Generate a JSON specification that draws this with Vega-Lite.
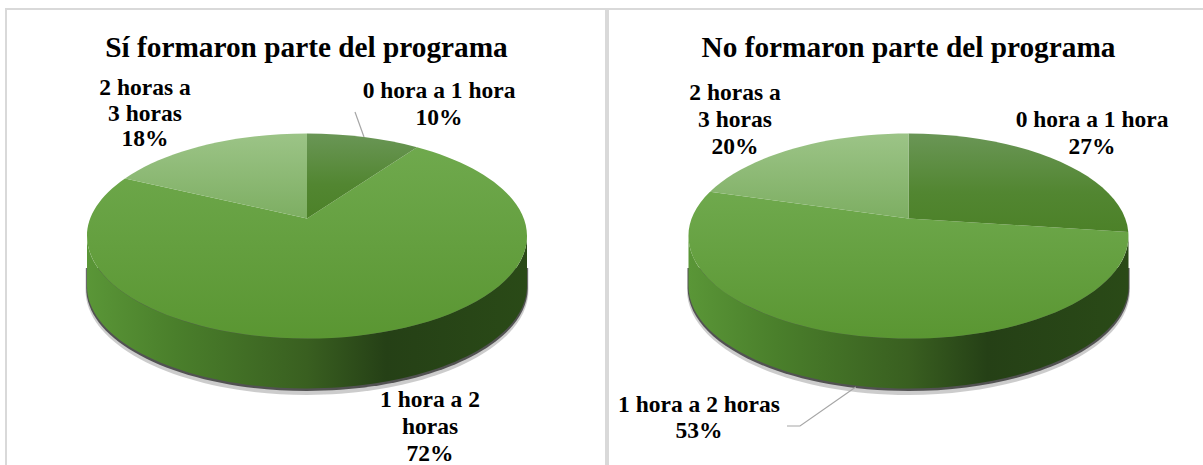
{
"$schema":"https://vega.github.io/schema/vega-lite/v6.json",
"background":"white",
"padding":{"left":5,"top":8,"right":0,"bottom":0},
"spacing":0,
"config":{"text":{"font":"Liberation Serif","fontWeight":"bold","color":"#000000"}},
"data":{"values":[
{"programa":"Sí formaron parte del programa","rango":"0 hora a 1 hora","pct":10,"etiqueta":"0 hora a 1 hora\n10%"},
{"programa":"Sí formaron parte del programa","rango":"1 hora a 2 horas","pct":72,"etiqueta":"1 hora a 2\nhoras\n72%"},
{"programa":"Sí formaron parte del programa","rango":"2 horas a 3 horas","pct":18,"etiqueta":"2 horas a\n3 horas\n18%"},
{"programa":"No formaron parte del programa","rango":"0 hora a 1 hora","pct":27,"etiqueta":"0 hora a 1 hora\n27%"},
{"programa":"No formaron parte del programa","rango":"1 hora a 2 horas","pct":53,"etiqueta":"1 hora a 2 horas\n53%"},
{"programa":"No formaron parte del programa","rango":"2 horas a 3 horas","pct":20,"etiqueta":"2 horas a\n3 horas\n20%"}
]},
"hconcat":[
{"width":600,"height":457,"view":{"stroke":"#d9d9d9","strokeWidth":2},"transform":[{"filter":"datum.pct==10||datum.pct==72||datum.pct==18"}],"layer":[
{"transform":[{"filter":"datum.pct==72"}],"mark":{"type":"point","filled":true,"opacity":0.3,"size":4,"fill":"#555555","xOffset":1,"yOffset":-1.5,"shape":"M-221.5,32 L-221.5,54 A221.5,105 0 0 0 221.5,54 L221.5,32 Z"}},
{"transform":[{"filter":"datum.pct==72"}],"mark":{"type":"point","filled":true,"opacity":0.8,"size":4,"fill":"#333333","xOffset":1,"yOffset":-1.5,"shape":"M-220.8,32 L-220.8,52 A220.8,103 0 0 0 220.8,52 L220.8,32 Z"}},
{"transform":[{"filter":"datum.pct==72"}],"mark":{"type":"point","filled":true,"opacity":1,"size":4,"xOffset":1,"yOffset":-1.5,"shape":"M-220,0 A220,102.5 0 0 0 220,0 L220,50 A220,102.5 0 0 1 -220,50 Z","fill":{"gradient":"linear","x1":0,"y1":0,"x2":1,"y2":0,"stops":[{"offset":0,"color":"#5a9637"},{"offset":0.2,"color":"#4a7f2b"},{"offset":0.5,"color":"#395f20"},{"offset":0.68,"color":"#254016"},{"offset":1,"color":"#2a4a17"}]}}},
{"transform":[{"filter":"datum.pct==72"}],"mark":{"type":"point","filled":true,"opacity":1,"size":4,"xOffset":1,"yOffset":-1.5,"shape":"M0,-17.5 L110,-88.8 A220,102.5 0 1 1 -182,-57.6 Z","fill":{"gradient":"linear","x1":0,"y1":0,"x2":0,"y2":1,"stops":[{"offset":0,"color":"#6fa94d"},{"offset":1,"color":"#5a9632"}]}}},
{"transform":[{"filter":"datum.pct==10"}],"mark":{"type":"point","filled":true,"opacity":1,"size":4,"xOffset":1,"yOffset":-1.5,"shape":"M0,-17.5 L0,-102.5 A220,102.5 0 0 1 110,-88.8 Z","fill":{"gradient":"linear","x1":0,"y1":0,"x2":0,"y2":1,"stops":[{"offset":0,"color":"#6a9656"},{"offset":0.6,"color":"#528631"},{"offset":1,"color":"#4c8128"}]}}},
{"transform":[{"filter":"datum.pct==18"}],"mark":{"type":"point","filled":true,"opacity":1,"size":4,"xOffset":1,"yOffset":-1.5,"shape":"M0,-17.5 L-182,-57.6 A220,102.5 0 0 1 0,-102.5 Z","fill":{"gradient":"linear","x1":0,"y1":0,"x2":0,"y2":1,"stops":[{"offset":0,"color":"#9cc487"},{"offset":1,"color":"#7dae62"}]}}},
{"transform":[{"filter":"datum.pct==10"}],"mark":{"type":"point","filled":false,"opacity":1,"size":4,"stroke":"#a6a6a6","strokeWidth":1.2,"xOffset":1,"yOffset":-1.5,"shape":"M48,-124 L57,-99"}},
{"transform":[{"filter":"datum.pct==10"}],"mark":{"type":"text","fontSize":29.3,"xOffset":0.5,"yOffset":-189.5},"encoding":{"text":{"field":"programa"}}},
{"transform":[{"filter":"datum.pct==18"}],"mark":{"type":"text","fontSize":23.5,"lineBreak":"\n","lineHeight":25.5,"xOffset":-161,"yOffset":-149.5},"encoding":{"text":{"field":"etiqueta"}}},
{"transform":[{"filter":"datum.pct==10"}],"mark":{"type":"text","fontSize":23.5,"lineBreak":"\n","lineHeight":27,"xOffset":133,"yOffset":-146.5},"encoding":{"text":{"field":"etiqueta"}}},
{"transform":[{"filter":"datum.pct==72"}],"mark":{"type":"text","fontSize":23.5,"lineBreak":"\n","lineHeight":27,"xOffset":124,"yOffset":162},"encoding":{"text":{"field":"etiqueta"}}}
]},
{"width":597,"height":457,"view":{"stroke":"#d9d9d9","strokeWidth":2},"transform":[{"filter":"datum.pct==27||datum.pct==53||datum.pct==20"}],"layer":[
{"transform":[{"filter":"datum.pct==53"}],"mark":{"type":"point","filled":true,"opacity":0.3,"size":4,"fill":"#555555","xOffset":2,"yOffset":-1.5,"shape":"M-221.5,32 L-221.5,54 A221.5,105 0 0 0 221.5,54 L221.5,32 Z"}},
{"transform":[{"filter":"datum.pct==53"}],"mark":{"type":"point","filled":true,"opacity":0.8,"size":4,"fill":"#333333","xOffset":2,"yOffset":-1.5,"shape":"M-220.8,32 L-220.8,52 A220.8,103 0 0 0 220.8,52 L220.8,32 Z"}},
{"transform":[{"filter":"datum.pct==53"}],"mark":{"type":"point","filled":true,"opacity":1,"size":4,"xOffset":2,"yOffset":-1.5,"shape":"M-220,0 A220,102.5 0 0 0 220,0 L220,50 A220,102.5 0 0 1 -220,50 Z","fill":{"gradient":"linear","x1":0,"y1":0,"x2":1,"y2":0,"stops":[{"offset":0,"color":"#5a9637"},{"offset":0.2,"color":"#4a7f2b"},{"offset":0.5,"color":"#395f20"},{"offset":0.68,"color":"#254016"},{"offset":1,"color":"#2a4a17"}]}}},
{"transform":[{"filter":"datum.pct==53"}],"mark":{"type":"point","filled":true,"opacity":1,"size":4,"xOffset":2,"yOffset":-1.5,"shape":"M0,-17.5 L219.8,-4 A220,102.5 0 1 1 -198.5,-44.2 Z","fill":{"gradient":"linear","x1":0,"y1":0,"x2":0,"y2":1,"stops":[{"offset":0,"color":"#6fa94d"},{"offset":1,"color":"#5a9632"}]}}},
{"transform":[{"filter":"datum.pct==27"}],"mark":{"type":"point","filled":true,"opacity":1,"size":4,"xOffset":2,"yOffset":-1.5,"shape":"M0,-17.5 L0,-102.5 A220,102.5 0 0 1 219.8,-4 Z","fill":{"gradient":"linear","x1":0,"y1":0,"x2":0,"y2":1,"stops":[{"offset":0,"color":"#6a9656"},{"offset":0.6,"color":"#528631"},{"offset":1,"color":"#4c8128"}]}}},
{"transform":[{"filter":"datum.pct==20"}],"mark":{"type":"point","filled":true,"opacity":1,"size":4,"xOffset":2,"yOffset":-1.5,"shape":"M0,-17.5 L-198.5,-44.2 A220,102.5 0 0 1 0,-102.5 Z","fill":{"gradient":"linear","x1":0,"y1":0,"x2":0,"y2":1,"stops":[{"offset":0,"color":"#9cc487"},{"offset":1,"color":"#7dae62"}]}}},
{"transform":[{"filter":"datum.pct==53"}],"mark":{"type":"point","filled":false,"opacity":1,"size":4,"stroke":"#a6a6a6","strokeWidth":1.2,"xOffset":2,"yOffset":-1.5,"shape":"M-52.7,151 L-108.5,190 L-121.5,190"}},
{"transform":[{"filter":"datum.pct==27"}],"mark":{"type":"text","fontSize":29.3,"xOffset":2,"yOffset":-189.5},"encoding":{"text":{"field":"programa"}}},
{"transform":[{"filter":"datum.pct==20"}],"mark":{"type":"text","fontSize":23.5,"lineBreak":"\n","lineHeight":27,"xOffset":-171.5,"yOffset":-144.5},"encoding":{"text":{"field":"etiqueta"}}},
{"transform":[{"filter":"datum.pct==27"}],"mark":{"type":"text","fontSize":23.5,"lineBreak":"\n","lineHeight":27,"xOffset":185.5,"yOffset":-117.5},"encoding":{"text":{"field":"etiqueta"}}},
{"transform":[{"filter":"datum.pct==53"}],"mark":{"type":"text","fontSize":23.5,"lineBreak":"\n","lineHeight":26,"xOffset":-207.5,"yOffset":167.5},"encoding":{"text":{"field":"etiqueta"}}}
]}
]
}
